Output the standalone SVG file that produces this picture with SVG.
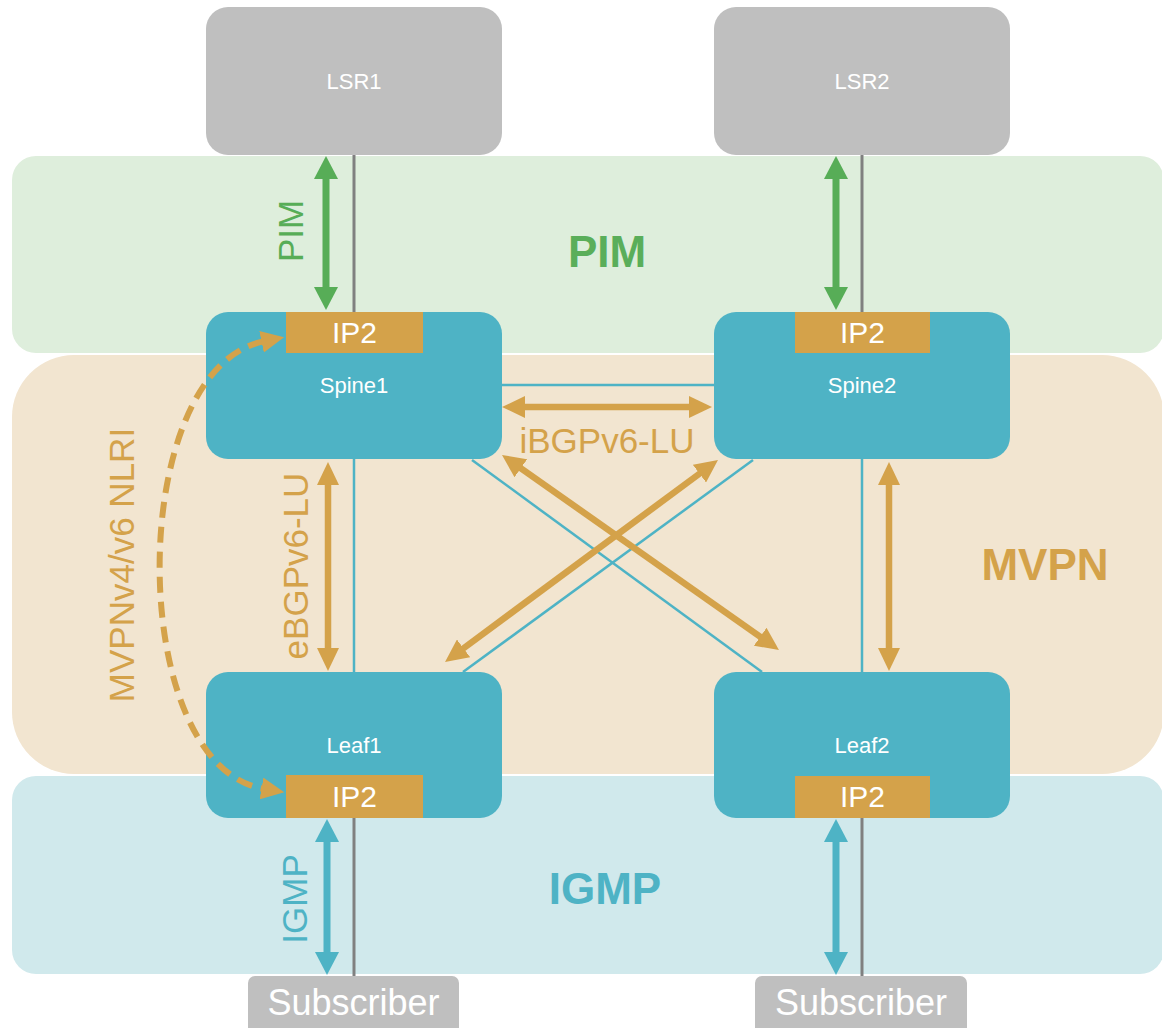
<svg xmlns="http://www.w3.org/2000/svg" width="1162" height="1028" viewBox="0 0 1162 1028">
<style>
text{font-family:"Liberation Sans",Arial,Helvetica,sans-serif}
.band-pim{fill:#deeedc}
.band-mvpn{fill:#f2e5d0}
.band-igmp{fill:#d0e9ec}
.gray{fill:#bfbfbf}
.node{fill:#4eb3c5}
.ip{fill:#d4a24a}
.wt{fill:#ffffff;text-anchor:middle}
.big{font-weight:bold;font-size:44px;text-anchor:middle}
.lbl{font-size:35px;text-anchor:middle}
.glink{stroke:#808080;stroke-width:3;fill:none}
.tlink{stroke:#4eb3c5;stroke-width:2.5;fill:none}
.ga{stroke:#57ad57;stroke-width:7;fill:none;marker-start:url(#hg);marker-end:url(#hg)}
.ta{stroke:#4eb3c5;stroke-width:7;fill:none;marker-start:url(#ht);marker-end:url(#ht)}
.oa{stroke:#d4a24a;stroke-width:6.5;fill:none;marker-start:url(#ho);marker-end:url(#ho)}
.od{stroke:#d4a24a;stroke-width:6;fill:none;stroke-dasharray:16 9;marker-start:url(#ho);marker-end:url(#ho)}
</style>
<defs>
<marker id="hg" markerUnits="userSpaceOnUse" markerWidth="24" markerHeight="24" refX="2" refY="12" orient="auto-start-reverse"><path d="M0,0 L23,12 L0,24 z" fill="#57ad57"/></marker>
<marker id="ht" markerUnits="userSpaceOnUse" markerWidth="24" markerHeight="24" refX="2" refY="12" orient="auto-start-reverse"><path d="M0,0 L23,12 L0,24 z" fill="#4eb3c5"/></marker>
<marker id="ho" markerUnits="userSpaceOnUse" markerWidth="24" markerHeight="22" refX="2" refY="11" orient="auto-start-reverse"><path d="M0,0 L23,11 L0,22 z" fill="#d4a24a"/></marker>
</defs>

<g id="band-pim">
<rect class="band-pim" x="12" y="156" width="1152" height="197" rx="24"/>
<text class="big" x="607" y="267" fill="#5aae5a">PIM</text>
</g>
<g id="band-mvpn">
<rect class="band-mvpn" x="12" y="355" width="1152" height="419" rx="62"/>
<text class="big" x="1045" y="580" fill="#d4a24a">MVPN</text>
</g>
<g id="band-igmp">
<rect class="band-igmp" x="12" y="776" width="1152" height="198" rx="24"/>
<text class="big" x="605" y="904" fill="#4eb3c5">IGMP</text>
</g>

<g id="connectors-back">
<line class="glink" x1="354" y1="155" x2="354" y2="312"/>
<line class="glink" x1="862" y1="155" x2="862" y2="312"/>
<line class="glink" x1="354" y1="818" x2="354" y2="976"/>
<line class="glink" x1="862" y1="818" x2="862" y2="976"/>
<line class="tlink" x1="354" y1="459" x2="354" y2="672"/>
<line class="tlink" x1="862" y1="459" x2="862" y2="672"/>
<line class="tlink" x1="502" y1="385" x2="714" y2="385"/>
<line class="tlink" x1="472" y1="460" x2="762" y2="672"/>
<line class="tlink" x1="753" y1="460" x2="463" y2="672"/>
</g>

<g id="lsr1">
<rect class="gray" x="206" y="7" width="296" height="148" rx="22"/>
<text class="wt" x="354" y="89" font-size="22">LSR1</text>
</g>
<g id="lsr2">
<rect class="gray" x="714" y="7" width="296" height="148" rx="22"/>
<text class="wt" x="862" y="89" font-size="22">LSR2</text>
</g>
<g id="spine1">
<rect class="node" x="206" y="312" width="296" height="147" rx="22"/>
<rect class="ip" x="286" y="312" width="137" height="41"/>
<text class="wt" x="354.5" y="343" font-size="30">IP2</text>
<text class="wt" x="354" y="393" font-size="22">Spine1</text>
</g>
<g id="spine2">
<rect class="node" x="714" y="312" width="296" height="147" rx="22"/>
<rect class="ip" x="795" y="312" width="135" height="41"/>
<text class="wt" x="862.5" y="343" font-size="30">IP2</text>
<text class="wt" x="862" y="393" font-size="22">Spine2</text>
</g>
<g id="leaf1">
<rect class="node" x="206" y="672" width="296" height="146" rx="22"/>
<rect class="ip" x="286" y="775" width="137" height="43"/>
<text class="wt" x="354.5" y="807" font-size="30">IP2</text>
<text class="wt" x="354" y="753" font-size="22">Leaf1</text>
</g>
<g id="leaf2">
<rect class="node" x="714" y="672" width="296" height="146" rx="22"/>
<rect class="ip" x="795" y="776" width="135" height="42"/>
<text class="wt" x="862.5" y="807" font-size="30">IP2</text>
<text class="wt" x="862" y="753" font-size="22">Leaf2</text>
</g>
<g id="subscriber1">
<rect class="gray" x="248" y="976" width="211" height="70" rx="7"/>
<text class="wt" x="353.5" y="1015" font-size="36">Subscriber</text>
</g>
<g id="subscriber2">
<rect class="gray" x="755" y="976" width="212" height="70" rx="7"/>
<text class="wt" x="861" y="1015" font-size="36">Subscriber</text>
</g>

<g id="connectors">
<line class="ga" x1="326" y1="177" x2="326" y2="289"/>
<line class="ga" x1="836" y1="177" x2="836" y2="289"/>
<line class="ta" x1="327" y1="840" x2="327" y2="954"/>
<line class="ta" x1="836" y1="840" x2="836" y2="954"/>
<line class="oa" x1="523" y1="407" x2="691" y2="407"/>
<line class="oa" x1="328" y1="483" x2="328" y2="650"/>
<line class="oa" x1="889" y1="483" x2="889" y2="650"/>
<line class="oa" x1="519.2" y1="467.1" x2="761.8" y2="637.9"/>
<line class="oa" x1="701.1" y1="472.5" x2="461.9" y2="649.5"/>
<path class="od" d="M263.5,341.4 C125,370 125,765 263.5,788.8"/>
<text class="lbl" fill="#57ad57" transform="translate(303,231) rotate(-90)">PIM</text>
<text class="lbl" fill="#4eb3c5" transform="translate(307,899) rotate(-90)">IGMP</text>
<text class="lbl" fill="#d4a24a" transform="translate(308,566) rotate(-90)">eBGPv6-LU</text>
<text class="lbl" fill="#d4a24a" font-size="34" transform="translate(134,565) rotate(-90)">MVPNv4/v6 NLRI</text>
<text class="lbl" fill="#d4a24a" x="607" y="453">iBGPv6-LU</text>
</g>
</svg>
